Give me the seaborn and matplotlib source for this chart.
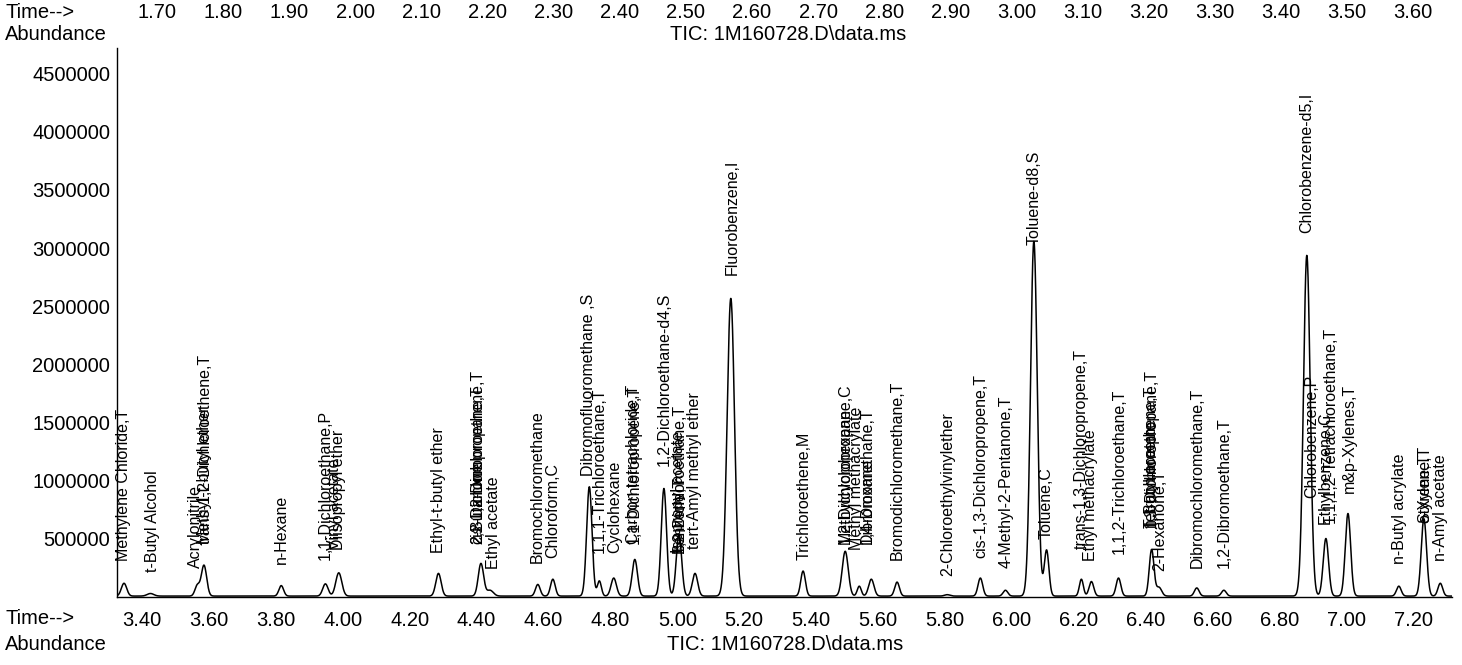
import numpy as np
import pandas as pd
import matplotlib
matplotlib.use("Agg")
import matplotlib.pyplot as plt
import matplotlib.ticker as mticker
from matplotlib import font_manager
import seaborn as sns

# ---------------- data ----------------
peak_rt = [3.346, 3.425, 3.565, 3.585, 3.816, 3.948, 3.988, 4.286, 4.413, 4.440,
           4.583, 4.628, 4.737, 4.767, 4.810, 4.873, 4.960, 5.005, 5.053, 5.160,
           5.376, 5.502, 5.544, 5.580, 5.657, 5.807, 5.906, 5.981, 6.066, 6.104,
           6.208, 6.238, 6.319, 6.418, 6.440, 6.553, 6.634, 6.882, 6.939, 7.005,
           7.157, 7.232, 7.281]
peak_height = [110000, 22000, 90000, 265000, 90000, 105000, 200000, 195000, 280000, 50000,
               100000, 145000, 940000, 130000, 155000, 315000, 925000, 535000, 195000, 2560000,
               215000, 385000, 85000, 145000, 120000, 12000, 155000, 50000, 3050000, 395000,
               145000, 125000, 155000, 400000, 75000, 70000, 50000, 2930000, 495000, 710000,
               85000, 665000, 110000]
peak_width = [0.008, 0.010, 0.007, 0.008, 0.007, 0.008, 0.009, 0.008, 0.008, 0.010,
              0.007, 0.007, 0.008, 0.006, 0.008, 0.008, 0.008, 0.008, 0.008, 0.011,
              0.007, 0.009, 0.006, 0.008, 0.007, 0.008, 0.007, 0.007, 0.010, 0.007,
              0.006, 0.007, 0.007, 0.007, 0.008, 0.007, 0.007, 0.010, 0.008, 0.008,
              0.007, 0.008, 0.007]
baseline_level = 8000

label_names = ["Methylene Chloride,T", "t-Butyl Alcohol", "Acrylonitrile",
               "trans-1,2-Dichloroethene,T", "Methyl-t-butyl ether", "n-Hexane",
               "1,1-Dichloroethane,P", "Vinyl acetate", "Diisopropyl ether",
               "Ethyl-t-butyl ether", "2,2-Dichloropropane,T", "cis-1,2-Dichloroethene,T",
               "2-Butanone", "Ethyl acetate", "Bromochloromethane", "Chloroform,C",
               "Dibromofluoromethane ,S", "1,1,1-Trichloroethane,T", "Cyclohexane",
               "Carbon tetrachloride,T", "1,1-Dichloropropene,T", "1,2-Dichloroethane-d4,S",
               "Benzene,T", "1,2-Dichloroethane,T", "Isopropyl acetate",
               "tert-Amyl methyl ether", "Fluorobenzene,I", "Trichloroethene,M",
               "Methylcyclohexane", "1,2-Dichloropropane,C", "Methyl methacrylate",
               "Dibromomethane,T", "1,4-Dioxane", "Bromodichloromethane,T",
               "2-Chloroethylvinylether", "cis-1,3-Dichloropropene,T",
               "4-Methyl-2-Pentanone,T", "Toluene-d8,S", "Toluene,C",
               "trans-1,3-Dichloropropene,T", "Ethyl methacrylate",
               "1,1,2-Trichloroethane,T", "Tetrachloroethene,T", "1,3-Dichloropropane,T",
               "n-Butyl acetate", "2-Hexanone,T", "Dibromochloromethane,T",
               "1,2-Dibromoethane,T", "Chlorobenzene-d5,I", "Chlorobenzene,P",
               "Ethylbenzene,C", "1,1,1,2-Tetrachloroethane,T", "m&p-Xylenes,T",
               "n-Butyl acrylate", "o-Xylene,T", "Styrene,T", "n-Amyl acetate"]
label_rt = [3.343, 3.430, 3.559, 3.589, 3.586, 3.816, 3.948, 3.975, 3.987, 4.286,
            4.403, 4.403, 4.403, 4.451, 4.580, 4.628, 4.735, 4.768, 4.813, 4.870,
            4.870, 4.960, 5.005, 5.005, 5.005, 5.050, 5.163, 5.379, 5.502, 5.502,
            5.535, 5.567, 5.567, 5.657, 5.810, 5.909, 5.984, 6.068, 6.104, 6.208,
            6.236, 6.322, 6.418, 6.418, 6.418, 6.442, 6.553, 6.634, 6.882, 6.897,
            6.936, 6.951, 7.008, 7.160, 7.235, 7.235, 7.281]
label_base = [310000, 215000, 250000, 457000, 457000, 284000, 320000, 400000, 400000, 380000,
              457000, 457000, 457000, 240000, 290000, 335000, 1040000, 380000, 380000, 457000,
              457000, 1130000, 380000, 380000, 380000, 415000, 2770000, 320000, 457000, 457000,
              400000, 457000, 457000, 320000, 180000, 335000, 250000, 3030000, 500000, 415000,
              310000, 370000, 595000, 595000, 595000, 225000, 250000, 250000, 3130000, 855000,
              630000, 640000, 890000, 284000, 640000, 640000, 310000]

main_ticks = [3.40, 3.60, 3.80, 4.00, 4.20, 4.40, 4.60, 4.80, 5.00, 5.20, 5.40, 5.60,
              5.80, 6.00, 6.20, 6.40, 6.60, 6.80, 7.00, 7.20]
y_ticks = [500000, 1000000, 1500000, 2000000, 2500000, 3000000, 3500000, 4000000, 4500000]
prev_ticks = [1.70, 1.80, 1.90, 2.00, 2.10, 2.20, 2.30, 2.40, 2.50, 2.60, 2.70, 2.80,
              2.90, 3.00, 3.10, 3.20, 3.30, 3.40, 3.50, 3.60]
tic_title = "TIC: 1M160728.D\\data.ms"

# ---------------- build trace from the peak table ----------------
t = np.linspace(3.325, 7.316, 5000)
signal = np.full_like(t, baseline_level, dtype=float)
for rt, h, w in zip(peak_rt, peak_height, peak_width):
    signal += h * np.exp(-0.5 * ((t - rt) / w) ** 2)
df = pd.DataFrame({"time": t, "abundance": signal})

# ---------------- style ----------------
sns.set_style("white")
avail = {f.name for f in font_manager.fontManager.ttflist}
base_font = "Liberation Sans" if "Liberation Sans" in avail else "DejaVu Sans"
if "Liberation Sans Narrow" in avail:
    label_font, label_size = "Liberation Sans Narrow", 14.5
else:
    label_font, label_size = base_font, 11.5
plt.rcParams["font.family"] = [base_font, "DejaVu Sans"]
plt.rcParams["text.color"] = "black"
plt.rcParams["xtick.color"] = "black"
plt.rcParams["ytick.color"] = "black"

W, H = 1462, 665
fig = plt.figure(figsize=(W / 100, H / 100), dpi=100)
left_px, right_px, bottom_px, top_px = 117, 1452, 597, 48
ax = fig.add_axes([left_px / W, (H - bottom_px) / H,
                   (right_px - left_px) / W, (bottom_px - top_px) / H])

sns.lineplot(data=df, x="time", y="abundance", color="black", linewidth=1.1, ax=ax)

ax.set_xlim(3.325, 7.316)
ax.set_ylim(0, 4.72e6)
ax.set_xlabel("")
ax.set_ylabel("")
for s in ["top", "right"]:
    ax.spines[s].set_visible(False)
for s in ["left", "bottom"]:
    ax.spines[s].set_color("black")
    ax.spines[s].set_linewidth(1.0)

ax.set_xticks(main_ticks)
ax.xaxis.set_minor_locator(mticker.MultipleLocator(0.04))
ax.xaxis.set_major_formatter(mticker.FormatStrFormatter("%.2f"))
ax.set_yticks(y_ticks)
ax.yaxis.set_major_formatter(mticker.FuncFormatter(lambda v, p: f"{int(round(v))}"))
ax.tick_params(axis="x", which="major", direction="out", length=8, width=1,
               labelsize=14.5, pad=2, colors="black")
ax.tick_params(axis="x", which="minor", direction="out", length=5, width=1, colors="black")
ax.tick_params(axis="y", which="major", direction="out", length=3, width=1,
               labelsize=14.5, pad=2, colors="black")

for name, rt, yb in zip(label_names, label_rt, label_base):
    ax.text(rt, yb, name, rotation=90, ha="center", va="bottom",
            fontsize=label_size, family=[label_font, "DejaVu Sans"], color="black")

# previous panel axis (top strip)
prev_left, prev_right = 1.6395, 3.659
axp = fig.add_axes([left_px / W, 1 - 12 / H, (right_px - left_px) / W, 0.0001])
axp.set_xlim(prev_left, prev_right)
axp.set_xticks(prev_ticks)
axp.xaxis.set_major_formatter(mticker.FormatStrFormatter("%.2f"))
axp.set_yticks([])
axp.tick_params(axis="x", length=0, pad=0, labelsize=14.5, colors="black")
for lab in axp.get_xticklabels():
    lab.set_va("center")
for s in axp.spines.values():
    s.set_visible(False)
axp.patch.set_alpha(0)

fs = 14.5
fig.text(5 / W, 1 - 12 / H, "Time-->", fontsize=fs, va="center", ha="left", color="black")
fig.text(5 / W, 1 - 35 / H, "Abundance", fontsize=fs, va="center", ha="left", color="black")
fig.text(788 / W, 1 - 35 / H, tic_title, fontsize=fs, va="center", ha="center", color="black")
fig.text(5 / W, 1 - 618 / H, "Time-->", fontsize=fs, va="center", ha="left", color="black")
fig.text(5 / W, 1 - 645 / H, "Abundance", fontsize=fs, va="center", ha="left", color="black")
fig.text(785 / W, 1 - 645 / H, tic_title, fontsize=fs, va="center", ha="center", color="black")

fig.savefig("out.png", dpi=100, facecolor="white")
